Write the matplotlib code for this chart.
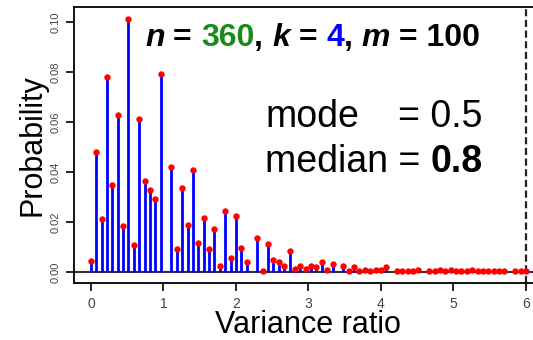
import matplotlib
matplotlib.use("Agg")
import matplotlib.pyplot as plt

plt.rcParams["font.family"] = ["Liberation Sans", "DejaVu Sans"]

# probability of each variance ratio value (values spaced 2/27 apart, starting at 0)
STEP = 2 / 27
prob = [
    0.0044, 0.0482, 0.0214, 0.0780, 0.0348, 0.0627, 0.0184, 0.1014, 0.0110, 0.0612,
    0.0364, 0.0327, 0.0292, 0.0794, 0.0, 0.0422, 0.0091, 0.0336, 0.0188, 0.0410,
    0.0118, 0.0215, 0.0094, 0.0171, 0.0024, 0.0244, 0.0056, 0.0223, 0.0098, 0.0042,
    0.0, 0.0136, 0.0006, 0.0111, 0.0050, 0.0042, 0.0024, 0.0086, 0.0011, 0.0026,
    0.0012, 0.0024, 0.0020, 0.0042, 0.0008, 0.0034, 0.0, 0.0024, 0.0004, 0.0020,
    0.0006, 0.0008, 0.0006, 0.0007, 0.0008, 0.0022, 0.0, 0.0005, 0.0006, 0.0004,
    0.0006, 0.0008, 0.0, 0.0004, 0.0006, 0.0008, 0.0005, 0.0007, 0.0006, 0.0004,
    0.0006, 0.0007, 0.0005, 0.0004, 0.0004, 0.0003, 0.0003, 0.0003, 0.0, 0.0004,
    0.0003, 0.0003,
]
ratio = [i * STEP for i in range(len(prob))]
xs = [r for r, p in zip(ratio, prob) if p > 0]
ys = [p for p in prob if p > 0]

xticks = [0, 1, 2, 3, 4, 5, 6]
yticks = [0.00, 0.02, 0.04, 0.06, 0.08, 0.10]
ytick_labels = ["0.00", "0.02", "0.04", "0.06", "0.08", "0.10"]

W, H = 533, 340
fig = plt.figure(figsize=(W / 100, H / 100), dpi=100)
ax = fig.add_axes([73.5 / W, 57 / H, (540 - 73.5) / W, 276 / H])
ax.set_xlim(-0.24, -0.24 + 466.5 / 72.5)
ax.set_ylim(-0.0044, 0.106)

ax.axhline(0, color="#333333", lw=1.5, zorder=1)
ax.vlines(xs, 0, ys, color="#0000ff", lw=2.0, zorder=2)
ax.plot(xs, ys, "o", color="#ff0000", ms=4.6, mew=0, zorder=3)
ax.axvline(6, color="#222222", lw=1.6, ls=(0, (3.2, 1.6)), zorder=1)

for s in ax.spines.values():
    s.set_linewidth(1.3)
ax.spines["right"].set_visible(False)

ax.set_xticks(xticks)
ax.set_yticks(yticks)
ax.set_yticklabels(ytick_labels, rotation=90, va="center")
ax.tick_params(direction="out", length=6, width=1.2, labelcolor="#444444", pad=3)
ax.tick_params(axis="x", labelsize=10, pad=4)
ax.tick_params(axis="y", labelsize=8)

fig.text(33 / W, 1 - 145 / H, "Probability", rotation=90, fontsize=22,
         ha="center", va="center")
fig.text(307.5 / W, 1 - 333 / H, "Variance ratio", fontsize=22,
         ha="center", va="baseline")

# header line with coloured parts
parts = [("n", "black", "italic"), (" = ", "black", "normal"),
         ("360", "#1a8a1a", "normal"), (", ", "black", "normal"),
         ("k", "black", "italic"), (" = ", "black", "normal"),
         ("4", "#0000ff", "normal"), (", ", "black", "normal"),
         ("m", "black", "italic"), (" = 100", "black", "normal")]
prev = fig.text(145 / W, 1 - 46 / H, parts[0][0], color=parts[0][1],
                style=parts[0][2], fontsize=23, fontweight="bold", va="baseline")
for txt, col, sty in parts[1:]:
    prev = ax.annotate(txt, xy=(1, 0), xycoords=prev, color=col, style=sty,
                       fontsize=23, fontweight="bold", va="bottom", ha="left")

fig.text(265 / W, 1 - 127 / H, "mode", fontsize=27, va="baseline")
fig.text(398 / W, 1 - 127 / H, "= 0.5", fontsize=27, va="baseline")
med = fig.text(265 / W, 1 - 172 / H, "median = ", fontsize=27, va="baseline")
ax.annotate("0.8", xy=(1, 0), xycoords=med, fontsize=27, fontweight="bold",
            va="bottom", ha="left")

fig.savefig("out.png", dpi=100)
